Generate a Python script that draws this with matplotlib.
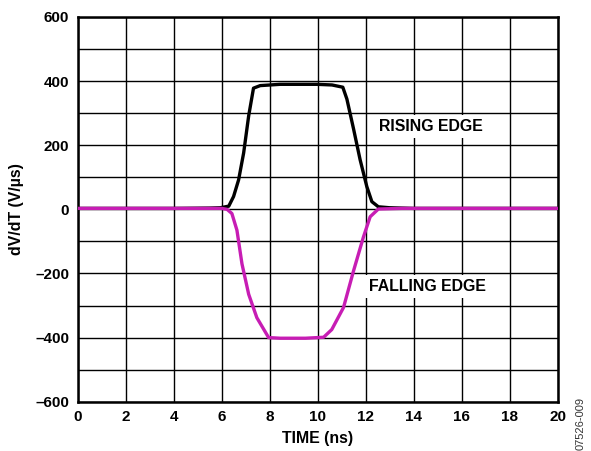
import matplotlib
matplotlib.use("Agg")
import matplotlib.pyplot as plt

plt.rcParams['font.family'] = ['Liberation Sans', 'DejaVu Sans']

# Data
t_rise = [0, 4, 5.5, 5.95, 6.3, 6.5, 6.71, 6.92, 7.13, 7.33, 7.61, 8.44, 9.97,
          10.6, 11.05, 11.22, 11.5, 11.77, 12.05, 12.26, 12.53, 13.0, 14, 20]
v_rise = [3, 3, 4, 5, 10, 40, 92, 176, 292, 378, 386, 390, 390,
          388, 381, 344, 250, 155, 71, 24, 8, 5, 3, 3]

t_fall = [0, 5, 6.0, 6.23, 6.43, 6.64, 6.85, 7.13, 7.47, 7.96, 8.44, 9.5,
          10.25, 10.59, 11.08, 11.5, 11.91, 12.19, 12.53, 13.5, 20]
v_fall = [3, 3, 3, 0, -13, -65, -170, -265, -338, -400, -402, -402,
          -399, -375, -306, -191, -86, -23, 1, 3, 3]

x_ticks = [0, 2, 4, 6, 8, 10, 12, 14, 16, 18, 20]
y_ticks = [-600, -500, -400, -300, -200, -100, 0, 100, 200, 300, 400, 500, 600]
y_labels = ['–600', '', '–400', '', '–200', '', '0', '', '200', '', '400', '', '600']

fig = plt.figure(figsize=(5.91, 4.51), dpi=100)
ax = fig.add_axes([77.5 / 591, 1 - 401.7 / 451, (557.7 - 77.5) / 591, (401.7 - 17) / 451])

ax.plot(t_rise, v_rise, color='black', lw=2.4, solid_joinstyle='round', zorder=3)
ax.plot(t_fall, v_fall, color='#C71DB4', lw=2.4, solid_joinstyle='round', zorder=4)

ax.set_xlim(0, 20)
ax.set_ylim(-600, 600)
ax.set_xticks(x_ticks)
ax.set_xticklabels([str(v) for v in x_ticks])
ax.set_yticks(y_ticks)
ax.set_yticklabels(y_labels)
ax.grid(True, color='black', lw=1.0)
ax.set_axisbelow(True)
ax.tick_params(length=0, labelsize=11, pad=6)
for lab in ax.get_xticklabels() + ax.get_yticklabels():
    lab.set_fontweight('bold')
for s in ax.spines.values():
    s.set_linewidth(1.8)

ax.set_xlabel('TIME (ns)', fontsize=11.4, fontweight='bold', labelpad=5)
ax.set_ylabel('dV/dT (V/µs)', fontsize=11.4, fontweight='bold', labelpad=8)

ax.text(12.56, 258, 'RISING EDGE', fontsize=11.4, fontweight='bold', ha='left', va='center',
        bbox=dict(facecolor='white', edgecolor='none', pad=3), zorder=5)
ax.text(12.15, -240, 'FALLING EDGE', fontsize=11.4, fontweight='bold', ha='left', va='center',
        bbox=dict(facecolor='white', edgecolor='none', pad=3), zorder=5)

fig.text(581 / 591, 1 - 423 / 451, '07526-009', rotation=90, fontsize=8, color='#333333',
         ha='center', va='center')

fig.savefig('out.png', dpi=100)
